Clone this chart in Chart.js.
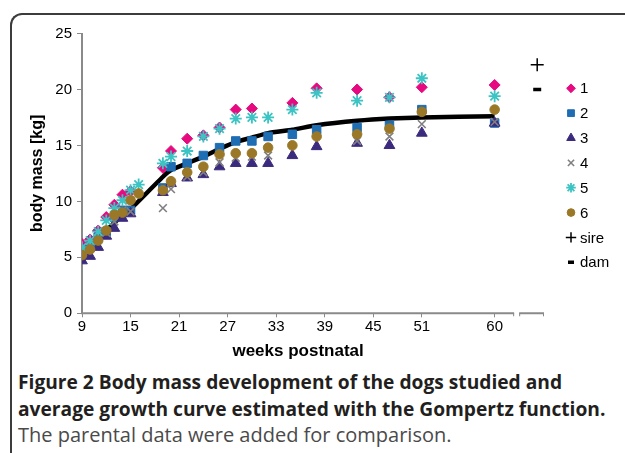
<!DOCTYPE html>
<html>
<head>
<meta charset="utf-8">
<script src="https://cdn.jsdelivr.net/npm/chart.js@4.4.1/dist/chart.umd.min.js"></script>
<style>
  body { margin: 0; background: #fff; width: 625px; height: 453px; overflow: hidden; position: relative; }
  #frame { position: absolute; left: 10px; top: 13px; width: 700px; height: 500px;
           border-left: 2px solid #3c3c3c; border-top: 2px solid #3c3c3c; border-top-left-radius: 12px; }
  #wrap { position: absolute; left: 0; top: 0; width: 625px; height: 363px; }
  #cap { position: absolute; left: 18px; top: 369px; width: 607px; font-family: "Open Sans", Lato, sans-serif;
         font-size: 19.2px; line-height: 26.5px; color: #231f20; white-space: nowrap; }
  #cap .b { font-weight: bold; }
  #cap .r { color: #4a4a4a; font-size: 20px; }
</style>
</head>
<body>
<div id="frame"></div>
<div id="wrap"><canvas id="myChart"></canvas></div>
<div id="cap">
  <div class="b">Figure 2 Body mass development of the dogs studied and</div>
  <div class="b">average growth curve estimated with the Gompertz function.</div>
  <div class="r">The parental data were added for comparison.</div>
</div>
<script>
// weeks postnatal at which the dogs were weighed
const weeks = [9, 10, 11, 12, 13, 14, 15, 16, 19, 20, 22, 24, 26, 28, 30, 32, 35, 38, 43, 47, 51, 60];
// body mass [kg] of each dog
const dog1 = [6.2, 6.6, 7.4, 8.6, 9.7, 10.6, 10.9, null, 13.0, 14.5, 15.6, 15.9, 16.6, 18.2, 18.3, null, 18.8, 20.1, 20.0, 19.3, 20.2, 20.4];
const dog2 = [5.4, 5.9, 6.8, 7.3, 8.6, 9.2, 9.2, null, 11.2, 13.1, 13.4, 14.1, 14.8, 15.4, 15.4, 15.8, 16.0, 16.4, 16.6, 16.8, 18.2, 17.0];
const dog3 = [4.7, 5.1, 5.9, 6.9, 7.6, 8.5, 8.9, null, 10.8, 11.6, 12.1, 12.4, 13.1, 13.4, 13.4, 13.4, 14.1, 14.9, 15.2, 15.0, 16.1, 17.0];
const dog4 = [5.5, 6.0, 6.7, 7.2, 8.2, 9.2, 9.1, null, 9.4, 11.1, 12.2, 12.6, 13.5, 13.9, 14.0, 14.1, null, null, 15.4, 15.8, 16.9, 17.1];
const dog5 = [5.9, 6.5, 7.3, 8.3, 9.4, 10.1, 11.0, 11.5, 13.4, 14.0, 14.5, 15.8, 16.5, 17.4, 17.5, 17.5, 18.2, 19.7, 19.0, 19.3, 21.0, 19.4];
const dog6 = [5.2, 5.7, 6.5, 7.4, 8.8, 9.0, 10.1, 10.7, 11.0, 11.8, 12.6, 13.1, 14.2, 14.3, 14.3, 14.8, 15.0, 15.8, 16.0, 16.5, 18.0, 18.2];
// Gompertz curve
const curveWeeks = [9, 10, 11, 12, 13, 14, 15, 19, 20, 22, 24, 26, 28, 30, 32, 35, 38, 43, 47, 51, 60];
const curveMass = [5.4, 6.1, 6.8, 7.4, 8.1, 8.7, 9.3, 12.2, 12.8, 13.4, 14.0, 14.7, 15.3, 15.7, 16.1, 16.4, 16.8, 17.2, 17.4, 17.5, 17.6];
// parents, plotted past the axis break
const parentWeek = 65.26;
const sireMass = 22.2;
const damMass = 20.0;
const tickWeeks = [9, 15, 21, 27, 33, 39, 45, 51, 60];
const axisEnd = 62.41, breakFrom = 63.03, breakTo = 66.1;

const labels = ["1", "2", "3", "4", "5", "6", "sire", "dam"];
const font = "'Liberation Sans', Arial, sans-serif";

function pts(xs, ys) {
  return xs.map((x, i) => ({ x: x, y: ys[i] }));
}

function dogSet(i, ys, color, style, radius, bw) {
  return {
    label: labels[i], data: pts(weeks, ys), showLine: false,
    pointStyle: style, pointRadius: radius, pointBorderWidth: bw,
    backgroundColor: color, borderColor: color, order: 10 - i
  };
}

let datasets = [
  dogSet(0, dog1, "#e6097f", "rectRot", 5.5, 1),
  dogSet(1, dog2, "#1f6db3", "rect", 6, 1),
  dogSet(2, dog3, "#3b2a7d", "triangle", 6.2, 1),
  dogSet(3, dog4, "#808080", "crossRot", 5.5, 1.6),
  dogSet(4, dog5, "#3cc3c3", "star", 6, 1.8),
  dogSet(5, dog6, "#9a7828", "circle", 4.8, 1),
  { label: "sire", data: [{ x: parentWeek, y: sireMass }], showLine: false,
    pointStyle: "cross", pointRadius: 6.5, pointBorderWidth: 1.5, borderColor: "#000", backgroundColor: "#000", order: 2 },
  { label: "dam", data: [{ x: parentWeek, y: damMass }], showLine: false,
    pointStyle: "line", pointRadius: 4, pointBorderWidth: 3.5, borderColor: "#000", backgroundColor: "#000", order: 1 },
  { label: "Gompertz", data: pts(curveWeeks, curveMass), showLine: true, borderColor: "#000",
    borderWidth: 4.5, pointRadius: 0, tension: 0.15, order: 20 }
];

const legendPlugin = {
  id: "sideLegend",
  afterDraw(chart) {
    const ctx = chart.ctx;
    ctx.save();
    for (let i = 0; i < 8; i++) {
      const ds = chart.data.datasets[i];
      const y = 88.3 + i * 24.85;
      ctx.fillStyle = ds.backgroundColor;
      ctx.strokeStyle = ds.borderColor;
      ctx.lineWidth = ds.pointBorderWidth;
      let r = ds.pointRadius * 0.8;
      if (ds.pointStyle == "line") r = 3;
      Chart.helpers.drawPoint(ctx, { pointStyle: ds.pointStyle, radius: r, borderWidth: ds.pointBorderWidth, rotation: 0 }, 571, y);
      ctx.fillStyle = "#000";
      ctx.font = "15px " + font;
      ctx.textBaseline = "middle";
      ctx.textAlign = "left";
      ctx.fillText(ds.label, 580, y + 1);
    }
    // the x axis, broken before the parents
    const xs = chart.scales.x;
    const yb = chart.chartArea.bottom;
    const xa = xs.getPixelForValue(9), xe = xs.getPixelForValue(axisEnd);
    const x1 = xs.getPixelForValue(breakFrom), x2 = xs.getPixelForValue(breakTo);
    ctx.strokeStyle = "#8a8a8a";
    ctx.lineWidth = 2;
    ctx.beginPath();
    ctx.moveTo(xa - 1, yb); ctx.lineTo(xe, yb);
    ctx.moveTo(x1, yb); ctx.lineTo(x2, yb);
    ctx.stroke();
    ctx.lineWidth = 1;
    ctx.beginPath();
    for (const px of [xe - 0.5, x1 + 0.5, x2 - 0.5]) {
      ctx.moveTo(px, yb); ctx.lineTo(px, yb + 3);
    }
    ctx.stroke();
    // axis title, centred under the main part of the axis
    ctx.fillStyle = "#000";
    ctx.font = "bold 17px " + font;
    ctx.textAlign = "center";
    ctx.textBaseline = "middle";
    ctx.fillText("weeks postnatal", (xa + xe) / 2, 351);
    ctx.restore();
  }
};

let ctx = document.getElementById("myChart").getContext("2d");
let growthChart = new Chart(ctx, {
  type: "scatter",
  data: { datasets: datasets },
  plugins: [legendPlugin],
  options: {
    responsive: true,
    maintainAspectRatio: false,
    animation: false,
    events: [],
    layout: { padding: { top: 33.5, right: 81, bottom: 0, left: 0 } },
    plugins: { legend: { display: false }, tooltip: { enabled: false } },
    scales: {
      x: {
        type: "linear", min: 9, max: breakTo,
        afterBuildTicks: (scale) => { scale.ticks = tickWeeks.map(v => ({ value: v })); },
        afterFit: (scale) => { scale.height = 49.7; },
        ticks: { color: "#000", padding: 1, font: { family: font, size: 15 } },
        grid: { drawOnChartArea: false, tickLength: 4, color: "#8a8a8a", lineWidth: 1 },
        border: { display: false }
      },
      y: {
        min: 0, max: 25,
        afterFit: (scale) => { scale.width = 82; },
        ticks: { stepSize: 5, color: "#000", padding: 5, font: { family: font, size: 15 } },
        grid: { drawOnChartArea: false, tickLength: 5, color: "#8a8a8a", lineWidth: 1 },
        border: { color: "#8a8a8a", width: 2 },
        title: { display: true, text: "body mass [kg]", color: "#000", padding: { top: 28, bottom: 0 },
                 font: { family: font, size: 16, weight: "bold" } }
      }
    }
  }
});
</script>
</body>
</html>
